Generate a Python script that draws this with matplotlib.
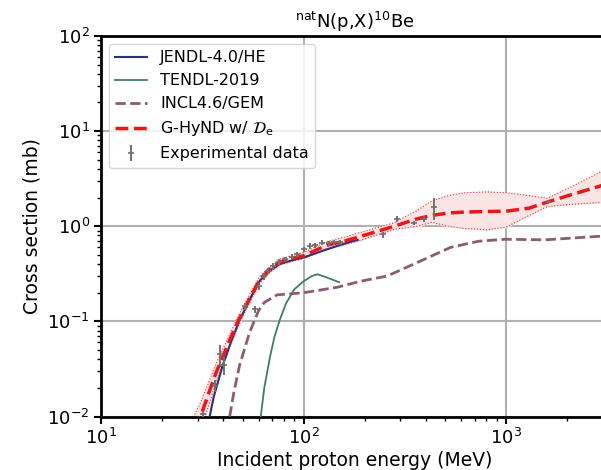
import numpy as np
import matplotlib
matplotlib.use("Agg")
import matplotlib.pyplot as plt

# G-HyND w/ De (central curve and uncertainty band)
e_hynd = [29, 31, 37, 43, 48, 55, 61, 68, 76, 88, 100, 130, 160, 190, 280, 360, 430, 520, 620, 800, 1000, 1300, 1600, 2100, 2900, 3300]
xs_hynd = [0.0075, 0.010, 0.029, 0.062, 0.105, 0.185, 0.277, 0.35, 0.418, 0.46, 0.49, 0.63, 0.70, 0.78, 1.0, 1.19, 1.30, 1.38, 1.41, 1.43, 1.44, 1.55, 1.80, 2.15, 2.64, 2.9]
xs_hynd_up = [0.0105, 0.014, 0.036, 0.072, 0.118, 0.203, 0.30, 0.375, 0.45, 0.495, 0.53, 0.69, 0.77, 0.86, 1.09, 1.45, 1.85, 2.1, 2.25, 2.3, 2.25, 2.1, 1.97, 2.6, 3.7, 4.3]
xs_hynd_lo = [0.005, 0.007, 0.023, 0.053, 0.094, 0.168, 0.255, 0.325, 0.39, 0.43, 0.455, 0.58, 0.64, 0.71, 0.93, 1.0, 1.1, 1.0, 0.95, 0.92, 0.98, 1.3, 1.62, 1.7, 1.78, 1.8]

# JENDL-4.0/HE
e_jendl = [34.4, 36, 40, 44, 48, 55, 61, 68, 76, 88, 100, 130, 160, 185]
xs_jendl = [0.01, 0.016, 0.035, 0.062, 0.10, 0.18, 0.27, 0.34, 0.40, 0.44, 0.47, 0.57, 0.66, 0.72]

# TENDL-2019
e_tendl = [61.5, 64, 68.4, 72, 76.5, 82, 90, 100, 110, 117, 130, 150]
xs_tendl = [0.01, 0.02, 0.043, 0.07, 0.105, 0.155, 0.217, 0.264, 0.30, 0.313, 0.29, 0.258]

# INCL4.6/GEM
e_incl = [43.2, 45.3, 48.4, 54.2, 60, 64, 74, 100, 146, 191, 259, 366, 532, 728, 990, 1560, 2900, 3300]
xs_incl = [0.01, 0.018, 0.035, 0.077, 0.13, 0.158, 0.19, 0.20, 0.228, 0.264, 0.30, 0.418, 0.60, 0.695, 0.73, 0.72, 0.785, 0.79]

# experimental data
e_exp = [32, 36.5, 38.5, 40.5, 51.5, 57.5, 60.3, 63.6, 67, 71, 75.5, 81, 87.5, 93,
         100.5, 107.6, 114, 123.5, 134, 141.6, 151.7, 246, 288, 352, 393, 440, 1615]
xs_exp = [0.0105, 0.021, 0.045, 0.035, 0.145, 0.134, 0.233, 0.30, 0.34, 0.38, 0.42, 0.45, 0.48, 0.51,
          0.57, 0.62, 0.63, 0.67, 0.66, 0.68, 0.68, 0.82, 1.19, 1.08, 1.19, 1.58, 1.79]
err_exp = [0.001, 0.003, 0.012, 0.008, 0.012, 0.012, 0.02, 0.025, 0.025, 0.03, 0.03, 0.03, 0.03, 0.03,
           0.04, 0.04, 0.04, 0.04, 0.04, 0.04, 0.04, 0.06, 0.09, 0.05, 0.09, 0.42, 0.08]

fig = plt.figure(figsize=(6.01, 4.70), dpi=100)
ax = fig.add_axes([0.168, 0.1138, 0.8444, 0.8096])

ax.fill_between(e_hynd, xs_hynd_lo, xs_hynd_up, color="#fbe4e4", zorder=1)
ax.plot(e_hynd, xs_hynd_up, color="#f03030", lw=0.8, ls=":", zorder=2)
ax.plot(e_hynd, xs_hynd_lo, color="#f03030", lw=0.8, ls=":", zorder=2)

ax.plot(e_jendl, xs_jendl, color="#2c2f80", lw=1.5, label="JENDL-4.0/HE", zorder=3)
ax.plot(e_tendl, xs_tendl, color="#3f7d63", lw=1.3, label="TENDL-2019", zorder=3)
ax.plot(e_incl, xs_incl, color="#8c5c72", lw=2, ls="--", label="INCL4.6/GEM", zorder=3)
ax.plot(e_hynd, xs_hynd, color="#ee1515", lw=2.5, ls="--",
        label=r"G-HyND w/ $\mathcal{D}_{\mathrm{e}}$", zorder=4)

ax.errorbar(e_exp, xs_exp, yerr=err_exp, fmt="_", ms=4, mew=1.2, color="#707070",
            ecolor="#707070", elinewidth=1.4, capsize=0, label="Experimental data", zorder=5)

ax.set_xscale("log")
ax.set_yscale("log")
ax.set_xlim(10, 3200)
ax.set_ylim(1e-2, 1e2)
ax.grid(True, which="major", color="#b0b0b0", lw=1.5)
ax.set_axisbelow(True)

for s in ax.spines.values():
    s.set_linewidth(2)
ax.tick_params(which="major", labelsize=13, width=1.5, length=5, pad=3)
ax.tick_params(which="minor", width=1, length=3)

ax.set_xlabel("Incident proton energy (MeV)", fontsize=13.5, labelpad=2)
ax.set_ylabel("Cross section (mb)", fontsize=13.5)
ax.set_title(r"$^{\mathrm{nat}}$N(p,X)$^{10}$Be", fontsize=13)

ax.legend(loc="upper left", fontsize=11.5, framealpha=0.8)

fig.savefig("out.png", dpi=100)
